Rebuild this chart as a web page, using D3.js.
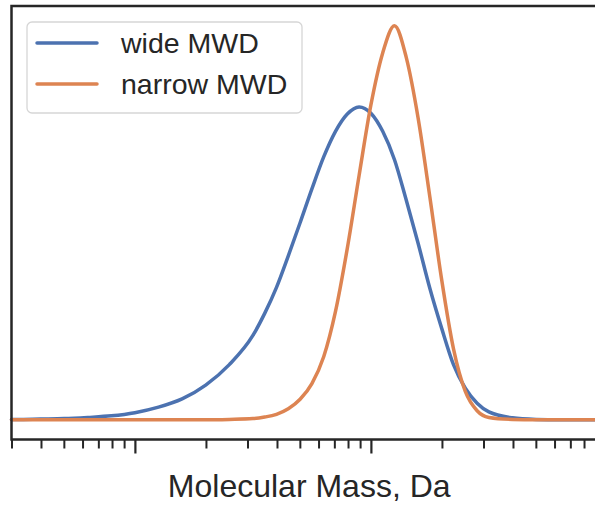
<!DOCTYPE html>
<html>
<head>
<meta charset="utf-8">
<script src="https://cdn.jsdelivr.net/npm/d3@7"></script>
<style>
  body { margin: 0; background: #fff; }
</style>
</head>
<body>
<div id="chart"></div>
<script>
// values: log10 of mass, and normalised intensity
const logMass = [3.477, 3.5, 3.6, 3.7, 3.8, 3.9, 4.0, 4.1, 4.2, 4.3, 4.4, 4.5, 4.55, 4.6, 4.65, 4.7, 4.75, 4.8, 4.85, 4.9, 4.95,
    5.0, 5.05, 5.1, 5.15, 5.2, 5.25, 5.3, 5.35, 5.4, 5.45, 5.5, 5.6, 5.7, 5.8, 5.9, 6.0];
const wideMWD = [0.001, 0.001, 0.002, 0.003, 0.006, 0.010, 0.018, 0.032, 0.053, 0.088, 0.140, 0.214, 0.270, 0.336, 0.416, 0.500, 0.586, 0.667, 0.732, 0.776, 0.794,
    0.778, 0.732, 0.660, 0.557, 0.448, 0.333, 0.232, 0.140, 0.080, 0.042, 0.020, 0.005, 0.001, 0, 0, 0];
const narrowMWD = [0, 0, 0, 0, 0, 0, 0, 0, 0, 0, 0.001, 0.003, 0.007, 0.014, 0.028, 0.052, 0.092, 0.160, 0.275, 0.435, 0.620,
    0.799, 0.931, 1.0, 0.919, 0.766, 0.565, 0.355, 0.180, 0.072, 0.023, 0.006, 0.001, 0, 0, 0, 0];
const seriesNames = ["wide MWD", "narrow MWD"];
const xDomain = [3000, 1e6];
const xLabel = "Molecular Mass, Da";

const width = 595, height = 508;
const colors = ["#4c72b0", "#dd8452"];
const ink = "#262626";

const svg = d3.select("#chart")
    .append("svg")
    .attr("width", width)
    .attr("height", height)
    .attr("font-family", "'Liberation Sans', Arial, sans-serif");

// plot area (right edge falls just outside the picture)
const plotLeft = 11.5, plotTop = 6, plotBottom = 439.5;
const x = d3.scaleLog()
    .domain(xDomain)
    .range([plotLeft, plotLeft + 236 * Math.log10(xDomain[1] / xDomain[0])]);

const mass = logMass.map(v => Math.pow(10, v));
const series = [wideMWD, narrowMWD].map((vals, i) => ({
    name: seriesNames[i],
    points: vals.map((v, j) => ({ m: mass[j], v }))
}));

const yMax = d3.max(series, s => d3.max(s.points, p => p.v));
const y = d3.scaleLinear()
    .domain([-0.05 * yMax, 1.05 * yMax])
    .range([plotBottom, plotTop]);

// ticks on the log axis
const allTicks = x.ticks();
const isMajor = t => Math.abs(Math.log10(t) - Math.round(Math.log10(t))) < 1e-9;

svg.append("g")
    .attr("transform", `translate(0,${plotBottom})`)
    .call(d3.axisBottom(x).tickValues(allTicks.filter(t => !isMajor(t))).tickSize(9).tickFormat(""))
    .call(g => g.select(".domain").remove())
    .call(g => g.selectAll("line").attr("stroke", ink).attr("stroke-width", 2));

svg.append("g")
    .attr("transform", `translate(0,${plotBottom})`)
    .call(d3.axisBottom(x).tickValues(allTicks.filter(isMajor)).tickSize(14).tickFormat(""))
    .call(g => g.select(".domain").remove())
    .call(g => g.selectAll("line").attr("stroke", ink).attr("stroke-width", 2.2));

// lines
const line = d3.line()
    .x(d => x(d.m))
    .y(d => y(d.v))
    .curve(d3.curveMonotoneX);

svg.append("g")
    .selectAll("path")
    .data(series)
    .enter().append("path")
    .attr("d", d => line(d.points))
    .attr("fill", "none")
    .attr("stroke", (d, i) => colors[i])
    .attr("stroke-width", 3.5)
    .attr("stroke-linecap", "round");

// frame
svg.append("rect")
    .attr("x", x.range()[0])
    .attr("y", plotTop)
    .attr("width", x.range()[1] - x.range()[0])
    .attr("height", plotBottom - plotTop)
    .attr("fill", "none")
    .attr("stroke", ink)
    .attr("stroke-width", 2.5);

// x label
svg.append("text")
    .attr("x", (x.range()[0] + x.range()[1]) / 2)
    .attr("y", 497)
    .attr("text-anchor", "middle")
    .attr("font-size", 32)
    .attr("fill", ink)
    .text(xLabel);

// legend
const legend = svg.append("g");
legend.append("rect")
    .attr("x", 27)
    .attr("y", 22)
    .attr("width", 275)
    .attr("height", 91)
    .attr("rx", 5)
    .attr("fill", "#fff")
    .attr("fill-opacity", 0.8)
    .attr("stroke", "#d6d6d6")
    .attr("stroke-width", 1.3);

const item = legend.selectAll("g")
    .data(seriesNames)
    .enter().append("g")
    .attr("transform", (d, i) => `translate(37,${43 + i * 41})`);

item.append("line")
    .attr("x2", 60)
    .attr("stroke", (d, i) => colors[i])
    .attr("stroke-width", 3.5)
    .attr("stroke-linecap", "round");

item.append("text")
    .attr("x", 84)
    .attr("y", 10)
    .attr("font-size", 28.5)
    .attr("fill", ink)
    .text(d => d);
</script>
</body>
</html>
